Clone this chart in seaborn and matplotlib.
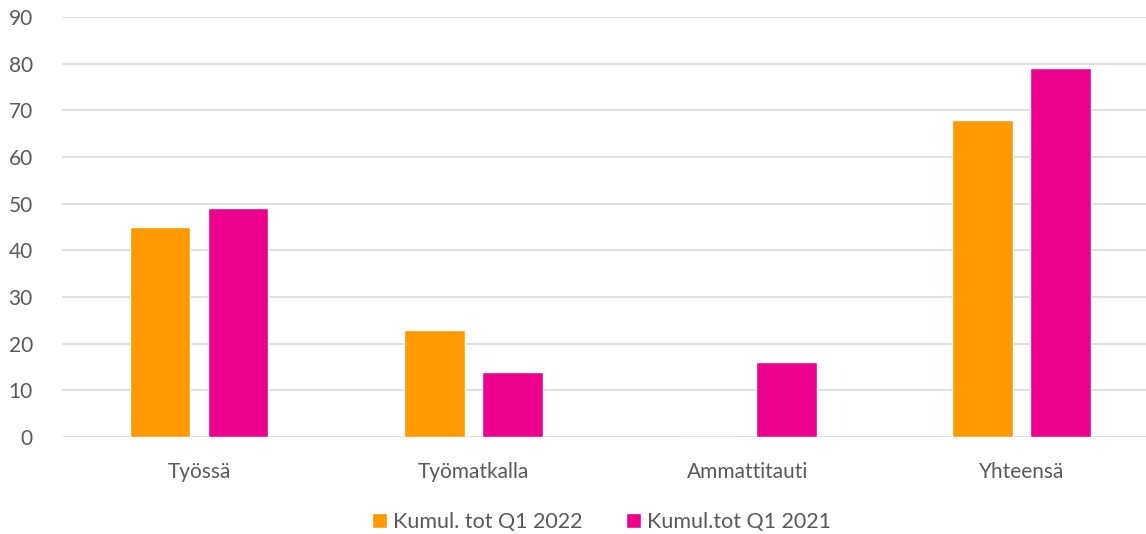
import pandas as pd
import matplotlib.pyplot as plt
import seaborn as sns

# data
kategoriat = ["Työssä", "Työmatkalla", "Ammattitauti", "Yhteensä"]
sarjat = ["Kumul. tot Q1 2022", "Kumul.tot Q1 2021"]
arvot_2022 = [45, 23, 0, 68]
arvot_2021 = [49, 14, 16, 79]
varit = ["#FF9900", "#EC008C"]

df = pd.DataFrame({
    "kategoria": kategoriat * 2,
    "sarja": [sarjat[0]] * 4 + [sarjat[1]] * 4,
    "arvo": arvot_2022 + arvot_2021,
})

sns.set_style("white")
plt.rcParams["font.family"] = ["Lato", "DejaVu Sans"]

fig, ax = plt.subplots(figsize=(11.46, 5.34), dpi=100)
sns.barplot(data=df, x="kategoria", y="arvo", hue="sarja", palette=varit,
            width=0.569, gap=0.22, ax=ax, saturation=1)

ax.set_ylim(0, 90)
ax.set_xlim(-0.5, 3.5)
ax.set_yticks(range(0, 91, 10))
ax.yaxis.grid(True, color="#D9D9D9", linewidth=1.2)
ax.set_axisbelow(True)
for s in ax.spines.values():
    s.set_visible(False)
ax.tick_params(axis="both", length=0, labelsize=15, colors="#595959")
ax.tick_params(axis="x", pad=18)
ax.tick_params(axis="y", pad=21)
ax.set_xlabel("")
ax.set_ylabel("")

ax.legend(loc="upper center", bbox_to_anchor=(0.5 - 0.008, -0.158), ncol=2, frameon=False,
          fontsize=15.5, labelcolor="#595959", handlelength=0.7, handleheight=0.7,
          handletextpad=0.3, columnspacing=2.0, borderaxespad=0.2, borderpad=0.2)

plt.subplots_adjust(left=0.0541, right=1.011, top=0.968, bottom=0.182)
plt.savefig("out.png", dpi=100)
